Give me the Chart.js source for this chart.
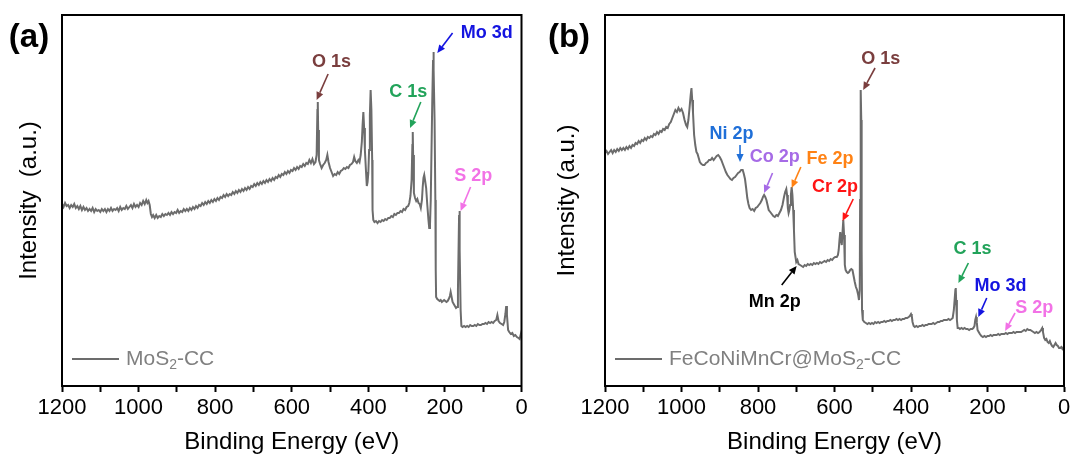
<!DOCTYPE html>
<html><head><meta charset="utf-8">
<script src="https://cdn.jsdelivr.net/npm/chart.js@4.4.0/dist/chart.umd.min.js"></script>
<style>
html,body{margin:0;padding:0;background:#fff;}
#wrap{position:relative;width:1073px;height:462px;overflow:hidden;}
canvas{position:absolute;top:0;}
</style></head><body>
<div id="wrap">
<canvas id="ca" width="536" height="462" style="left:0px"></canvas>
<canvas id="cb" width="537" height="462" style="left:536px"></canvas>
</div>
<script>
// ---------- DATA (binding energy eV, intensity a.u.) ----------
const spectrumA = [
[1200,196],[1196,193],[1192,197],[1188,194],[1184,195],[1180,192],[1176,195],[1172,193],[1168,196],[1164,192],
[1160,194],[1156,191],[1152,194],[1148,190],[1144,193],[1140,190],[1136,192],[1132,189],[1128,191],[1124,189],
[1120,192],[1116,188],[1112,191],[1108,189],[1104,190],[1100,188],[1096,191],[1092,189],[1088,191],[1084,188],
[1080,191],[1076,189],[1072,192],[1068,189],[1064,191],[1060,190],[1056,192],[1052,189],[1048,193],[1044,190],
[1040,192],[1036,191],[1032,194],[1028,191],[1024,193],[1020,195],[1016,192],[1012,196],[1008,193],[1004,195],
[1000,193],[996,197],[992,195],[988,199],[984,196],[980,200],[977,197],[974,199],[971,195],[968,186],
[965,183],[962,185],[958,182],[954,185],[950,182],[946,184],[942,183],[938,186],[934,184],[930,186],
[926,185],[922,187],[918,185],[914,188],[910,186],[906,188],[902,187],[898,190],[894,187],[890,189],
[886,188],[882,191],[878,189],[874,191],[870,189],[866,192],[862,190],[858,193],[854,191],[850,194],
[846,192],[842,195],[838,194],[834,197],[830,195],[826,198],[822,196],[818,199],[814,197],[810,200],
[806,198],[802,201],[798,199],[794,202],[790,200],[786,203],[782,202],[778,205],[774,203],[770,206],
[766,204],[762,206],[758,205],[754,208],[750,206],[746,209],[742,207],[738,210],[734,208],[730,211],
[726,209],[722,212],[718,210],[714,213],[710,211],[706,214],[702,213],[698,216],[694,214],[690,217],
[686,215],[682,218],[678,216],[674,219],[670,217],[666,220],[662,218],[658,221],[654,219],[650,222],
[646,220],[642,223],[638,222],[634,225],[630,223],[626,226],[622,225],[618,228],[614,226],[610,229],
[606,227],[602,230],[598,229],[594,232],[590,230],[586,233],[582,231],[578,234],[574,233],[570,236],
[566,234],[562,237],[558,236],[554,240],[550,237],[546,241],[542,236],[538,238],[535,245],[533,290],
[532,298],[531,270],[529,240],[526,236],[522,232],[518,235],[514,237],[510,240],[507,245],[504,238],
[500,232],[496,228],[492,224],[488,226],[484,225],[480,228],[476,226],[472,229],[468,230],[464,232],
[460,231],[456,233],[452,232],[448,235],[444,236],[440,238],[437,243],[434,239],[430,237],[426,240],
[423,238],[420,245],[417,258],[415,275],[413,288],[411,272],[409,250],[406,228],[404,214],[402,218],
[400,227],[398,250],[396,285],[394,310],[392,290],[390,240],[389,190],[387,180],[384,178],[380,179],
[376,177],[372,179],[368,178],[364,180],[360,179],[356,181],[352,180],[348,182],[344,182],[340,184],
[336,183],[332,186],[328,185],[324,187],[320,187],[316,189],[312,188],[308,191],[304,190],[300,193],
[296,194],[293,197],[290,204],[287,220],[285,255],[284,268],[283,245],[281,207],[278,202],[275,199],
[272,201],[269,197],[266,196],[263,192],[260,200],[258,213],[256,222],[254,225],[252,220],[249,212],
[246,195],[243,180],[241,172],[239,175],[237,200],[235,250],[233,300],[231,340],[230,348],[229,330],
[227,280],[225,200],[224,130],[223,103],[220,101],[217,100],[214,99],[211,100],[208,98],[205,99],
[202,100],[199,99],[196,98],[193,99],[190,101],[187,104],[185,108],[183,104],[180,98],[177,96],
[174,94],[171,92],[168,93],[166,110],[164,160],[163,185],[162,189],[161,150],[159,90],[157,74],
[154,73],[150,74],[146,73],[142,74],[138,73],[134,75],[130,74],[126,74],[122,75],[118,74],
[114,76],[110,75],[106,75],[102,76],[98,76],[94,77],[90,76],[86,78],[82,77],[78,78],
[74,77],[70,79],[66,80],[63,85],[60,79],[56,77],[52,76],[48,75],[45,78],[42,86],
[40,94],[38,85],[35,70],[32,68],[28,66],[24,67],[20,64],[16,65],[12,63],[8,62],
[5,61],[3,64],[1,67],[0,64]
];
const spectrumB = [
[1200,247],[1196,249],[1192,246],[1188,248],[1184,250],[1180,247],[1176,250],[1172,248],[1168,251],[1164,249],
[1160,252],[1156,250],[1152,252],[1148,250],[1144,253],[1140,251],[1136,254],[1132,252],[1128,255],[1124,254],
[1120,257],[1116,256],[1112,259],[1108,257],[1104,260],[1100,259],[1096,262],[1092,260],[1088,263],[1084,262],
[1080,264],[1076,263],[1072,266],[1068,265],[1064,268],[1060,266],[1056,269],[1052,268],[1048,271],[1044,270],
[1040,273],[1036,272],[1032,276],[1028,278],[1024,282],[1020,286],[1016,290],[1012,288],[1008,292],[1004,289],
[1000,291],[996,287],[992,280],[988,275],[985,273],[982,280],[979,292],[976,305],[974,312],[972,300],
[970,288],[967,265],[964,255],[961,248],[958,246],[955,242],[952,238],[948,236],[944,235],[940,235],
[936,237],[932,238],[928,240],[924,240],[920,242],[916,240],[912,242],[908,244],[904,245],[900,243],
[896,240],[892,236],[888,232],[884,228],[880,225],[876,223],[872,221],[868,220],[864,222],[860,223],
[856,225],[852,227],[848,228],[844,230],[840,230],[837,226],[834,221],[831,212],[828,202],[825,196],
[822,192],[818,190],[814,191],[810,189],[806,192],[802,193],[798,195],[794,197],[790,200],[787,203],
[784,205],[781,203],[778,200],[775,195],[772,190],[768,188],[764,186],[760,184],[756,183],[752,185],
[748,184],[744,187],[740,190],[736,195],[732,203],[729,208],[726,211],[724,205],[722,192],[720,187],
[718,190],[716,195],[714,205],[712,213],[710,205],[708,190],[706,170],[704,148],[702,143],[700,138],
[697,140],[694,136],[690,135],[686,134],[682,133],[678,135],[674,134],[670,136],[666,135],[662,136],
[658,135],[654,137],[650,136],[646,137],[642,136],[638,138],[634,137],[630,138],[626,139],[622,138],
[618,140],[614,139],[610,141],[606,140],[602,142],[598,143],[594,143],[591,145],[589,150],[587,160],
[585,168],[583,160],[581,155],[579,168],[577,180],[575,165],[573,135],[571,130],[568,128],[565,127],
[562,128],[559,130],[556,131],[553,130],[550,124],[547,118],[544,113],[541,110],[538,105],[536,100],
[534,110],[533,200],[532,290],[531,310],[530,280],[529,150],[528,90],[526,80],[522,78],[518,77],
[514,76],[510,77],[506,76],[502,77],[498,76],[494,78],[490,77],[486,78],[482,77],[478,78],
[474,78],[470,79],[466,78],[462,79],[458,79],[454,80],[450,79],[446,80],[442,80],[438,81],
[434,80],[430,81],[426,80],[422,81],[418,81],[414,82],[410,82],[406,83],[403,84],[400,86],
[398,84],[396,78],[393,74],[390,73],[386,74],[382,73],[378,74],[374,74],[370,75],[366,74],
[362,75],[358,75],[354,76],[350,76],[346,76],[342,77],[338,76],[334,77],[330,78],[326,78],
[322,79],[318,79],[314,80],[310,80],[306,80],[302,81],[298,80],[294,81],[291,82],[288,90],
[286,100],[284,110],[283,112],[282,100],[280,80],[278,72],[275,72],[272,71],[268,72],[264,71],
[260,72],[256,71],[252,71],[248,70],[244,71],[240,71],[237,72],[234,74],[232,80],[230,83],
[228,78],[226,70],[223,68],[220,66],[216,64],[212,63],[208,64],[204,63],[200,64],[196,64],
[192,65],[188,64],[184,65],[180,65],[176,65],[172,66],[168,65],[164,66],[160,66],[156,66],
[152,67],[148,66],[144,67],[140,67],[136,67],[132,68],[128,67],[124,68],[120,68],[116,68],
[112,68],[108,69],[104,70],[100,69],[96,71],[92,70],[88,70],[84,69],[80,68],[76,67],
[72,68],[68,67],[64,68],[60,70],[57,72],[55,68],[52,62],[49,60],[46,61],[43,58],
[40,57],[37,59],[34,56],[31,54],[28,53],[25,55],[22,57],[19,55],[16,54],[13,52],
[10,52],[7,53],[4,51],[2,52],[0,54]
];
const xTickLabels = [1200, 1000, 800, 600, 400, 200, 0];
const seriesNames = ['MoS|2|-CC', 'FeCoNiMnCr@MoS|2|-CC'];
const panelLetters = ['(a)', '(b)'];
const yTitles = ['Intensity  (a.u.)', 'Intensity (a.u.)'];
const annotationsA = [
  {text:'O 1s',  color:'#7a3e3e', at:[496,338], from:[505,326], to:[535,300]},
  {text:'C 1s',  color:'#22a35a', at:[296,308], from:[263,298], to:[291,272]},
  {text:'Mo 3d', color:'#1414e0', at:[91,367],  from:[180,367], to:[220,347]},
  {text:'S 2p',  color:'#f272e6', at:[126,224], from:[133,213], to:[159,189]}
];
const annotationsB = [
  {text:'O 1s',  color:'#7a3e3e', at:[479,341], from:[494,332], to:[525,310]},
  {text:'Ni 2p', color:'#1f6fd8', at:[869,266], from:[847,255], to:[847,238]},
  {text:'Co 2p', color:'#a66be6', at:[756,243], from:[762,227], to:[784,207]},
  {text:'Fe 2p', color:'#ff8214', at:[612,241], from:[688,233], to:[712,212]},
  {text:'Cr 2p', color:'#ff1414', at:[599,213], from:[551,201], to:[579,179]},
  {text:'Mn 2p', color:'#000000', at:[756,98],  from:[738,115], to:[699,134]},
  {text:'C 1s',  color:'#22a35a', at:[239,151], from:[250,137], to:[276,117]},
  {text:'Mo 3d', color:'#1414e0', at:[166,114], from:[202,102], to:[224,83]},
  {text:'S 2p',  color:'#f272e6', at:[78,92],   from:[128,87],  to:[154,69]}
];

// ---------- RENDERING ----------
const FONT = '"Liberation Sans", Arial, sans-serif';
const LINE_COLOR = '#6c6c6c';

function drawArrow(ctx, x1, y1, x2, y2, color) {
  const a = Math.atan2(y2 - y1, x2 - x1);
  const hl = 8, hw = 3.6;
  const bx = x2 - hl * Math.cos(a), by = y2 - hl * Math.sin(a);
  ctx.strokeStyle = color; ctx.fillStyle = color; ctx.lineWidth = 1.6;
  ctx.beginPath(); ctx.moveTo(x1, y1); ctx.lineTo(bx, by); ctx.stroke();
  ctx.beginPath(); ctx.moveTo(x2, y2);
  ctx.lineTo(bx + hw * Math.sin(a), by - hw * Math.cos(a));
  ctx.lineTo(bx - hw * Math.sin(a), by + hw * Math.cos(a));
  ctx.closePath(); ctx.fill();
}

const decorPlugin = {
  id: 'decor',
  afterDatasetsDraw(chart, args, opts) {
    const ctx = chart.ctx, ca = chart.chartArea;
    const xs = chart.scales.x, ys = chart.scales.y;
    ctx.save();
    ctx.strokeStyle = '#000'; ctx.lineWidth = 2;
    ctx.strokeRect(ca.left, ca.top, ca.right - ca.left, ca.bottom - ca.top);
    ctx.font = 'bold 18px ' + FONT;
    ctx.textAlign = 'center'; ctx.textBaseline = 'middle';
    opts.annotations.forEach(an => {
      ctx.fillStyle = an.color;
      ctx.fillText(an.text, xs.getPixelForValue(an.at[0]), ys.getPixelForValue(an.at[1]));
      drawArrow(ctx, xs.getPixelForValue(an.from[0]), ys.getPixelForValue(an.from[1]),
                xs.getPixelForValue(an.to[0]), ys.getPixelForValue(an.to[1]), an.color);
    });
    const ly = ca.bottom - 27;
    ctx.strokeStyle = LINE_COLOR; ctx.lineWidth = 2;
    ctx.beginPath(); ctx.moveTo(ca.left + 10, ly); ctx.lineTo(ca.left + 57, ly); ctx.stroke();
    const parts = opts.legend.split('|');
    let tx = ca.left + 64;
    ctx.fillStyle = '#808080'; ctx.textAlign = 'left'; ctx.textBaseline = 'middle';
    parts.forEach((p, i) => {
      const sub = (i % 2 === 1);
      ctx.font = (sub ? '14px ' : '21px ') + FONT;
      ctx.fillText(p, tx, ly + (sub ? 6 : 0));
      tx += ctx.measureText(p).width;
    });
    ctx.fillStyle = '#000'; ctx.font = 'bold 33px ' + FONT;
    ctx.textAlign = 'center'; ctx.textBaseline = 'middle';
    ctx.fillText(opts.letter, opts.letterX, 38);
    ctx.restore();
  }
};

function makeChart(id, spectrum, idx, annotations, yAxisWidth, padRight, titlePad, letterX) {
  return new Chart(document.getElementById(id), {
    type: 'line',
    data: { datasets: [{
      label: seriesNames[idx].replace(/\|/g, ''),
      data: spectrum.map(p => ({x: p[0], y: p[1]})),
      borderColor: LINE_COLOR, borderWidth: 2, pointRadius: 0, tension: 0, fill: false
    }]},
    options: {
      responsive: false, animation: false, devicePixelRatio: 1,
      layout: { padding: { top: 15, right: padRight, left: 0, bottom: 0 } },
      plugins: { legend: { display: false }, tooltip: { enabled: false },
                 decor: { annotations: annotations, legend: seriesNames[idx], letter: panelLetters[idx], letterX: letterX } },
      scales: {
        x: {
          type: 'linear', min: 0, max: 1200, reverse: true,
          afterFit: s => { s.height = 76; },
          afterBuildTicks: s => { s.ticks = []; for (let v = 0; v <= 1200; v += 100) s.ticks.push({value: v}); },
          ticks: { autoSkip: false, maxRotation: 0, padding: 3, color: '#000',
                   font: { family: FONT, size: 22 },
                   callback: v => xTickLabels.includes(v) ? String(v) : '' },
          grid: { display: true, drawOnChartArea: false, drawTicks: true, tickLength: 6,
                  tickColor: '#000', tickWidth: 2 },
          border: { display: true, color: '#000', width: 2 },
          title: { display: true, text: 'Binding Energy (eV)', color: '#000',
                   font: { family: FONT, size: 24 }, padding: { top: 0, bottom: 5 } }
        },
        y: {
          min: 14, max: 385,
          afterFit: s => { s.width = yAxisWidth; },
          ticks: { display: false },
          grid: { display: false },
          border: { display: true, color: '#000', width: 2 },
          title: { display: true, text: yTitles[idx], color: '#000',
                   font: { family: FONT, size: 24 }, padding: { top: titlePad, bottom: 0 } }
        }
      }
    },
    plugins: [decorPlugin]
  });
}

makeChart('ca', spectrumA, 0, annotationsA, 62, 14.5, 15, 29);
makeChart('cb', spectrumB, 1, annotationsB, 69, 9, 17, 33);
</script>
</body></html>
